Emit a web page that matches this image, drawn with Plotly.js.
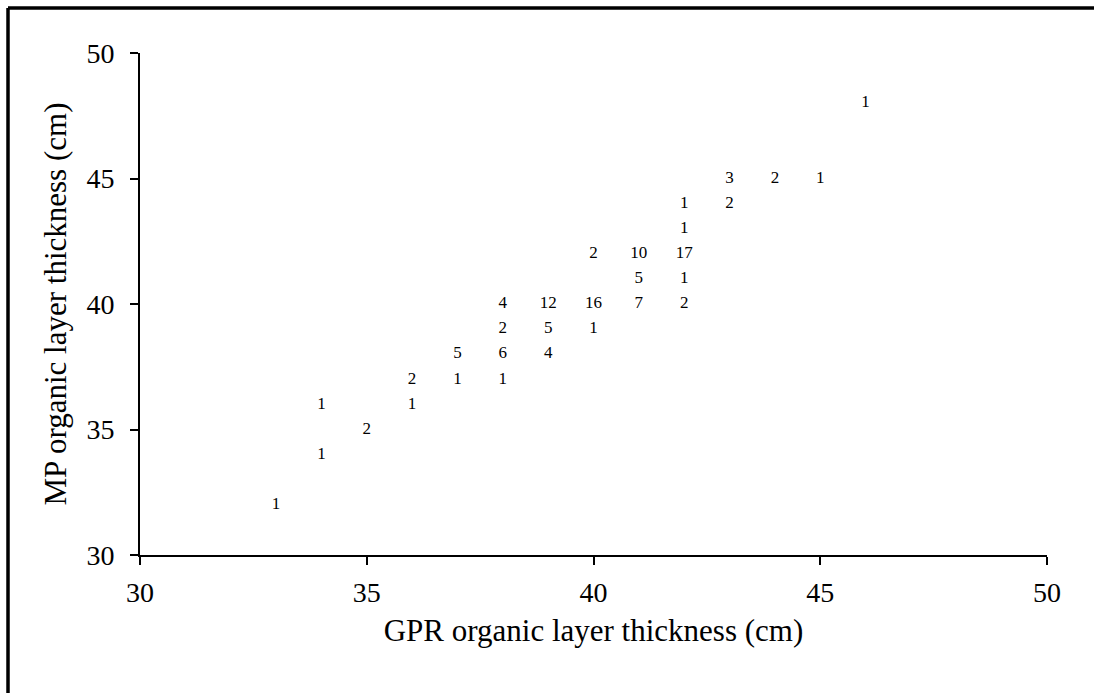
<!DOCTYPE html>
<html>
<head>
<meta charset="utf-8">
<script src="https://cdn.plot.ly/plotly-3.0.1.min.js"></script>
<style>html,body{margin:0;padding:0;background:#fff;overflow:hidden;}#chart{width:1094px;height:693px;overflow:hidden;}</style>
</head>
<body>
<div id="chart"></div>
<script>
// GPR thickness (x), MP thickness (y), number of observations (label)
const gprThickness = [33, 34, 34, 35, 36, 36, 37, 37, 38, 38, 38, 38, 39, 39, 39, 40, 40, 40, 41, 41, 41, 42, 42, 42, 42, 42, 43, 43, 44, 45, 46];
const mpThickness  = [32, 34, 36, 35, 36, 37, 37, 38, 37, 38, 39, 40, 38, 39, 40, 39, 40, 42, 40, 41, 42, 40, 41, 42, 43, 44, 44, 45, 45, 45, 48];
const counts       = [1, 1, 1, 2, 1, 2, 1, 5, 1, 6, 2, 4, 4, 5, 12, 1, 16, 2, 7, 5, 10, 2, 1, 17, 1, 1, 2, 3, 2, 1, 1];
const xTicks = [30, 35, 40, 45, 50];
const yTicks = [30, 35, 40, 45, 50];

const serif = 'Liberation Serif, Times New Roman, serif';
const L = 140, R = 47, T = 53, B = 138;
const W = 1094 - L - R, H = 693 - T - B;

const trace = {
  x: gprThickness,
  y: mpThickness,
  text: counts.map(String),
  mode: 'text',
  type: 'scatter',
  textposition: 'middle center',
  textfont: {family: serif, size: 17, color: '#000'},
  hoverinfo: 'x+y+text',
  showlegend: false
};

const axisCommon = {
  showgrid: false, zeroline: false, showline: true,
  linecolor: '#000', linewidth: 2,
  ticks: 'outside', ticklen: 8, tickwidth: 2, tickcolor: '#000',
  tickfont: {family: serif, size: 28, color: '#000'},
  automargin: false, fixedrange: true
};

const frameLeft = (8 - L) / W;
const frameTop = 1 + (T - 8) / H;
const frameRight = (1094 - L) / W;
const frameBottom = (693 - B - 693) / H;

const layout = {
  width: 1094, height: 693,
  margin: {l: L, r: R, t: T, b: B},
  paper_bgcolor: '#fff', plot_bgcolor: '#fff',
  font: {family: serif, color: '#000'},
  xaxis: Object.assign({}, axisCommon, {
    range: [30, 50], tickvals: xTicks, ticktext: xTicks.map(String),
    ticklabelstandoff: 3,
    title: {text: 'GPR organic layer thickness (cm)', font: {family: serif, size: 31, color: '#000'}, standoff: 13}
  }),
  yaxis: Object.assign({}, axisCommon, {
    range: [30, 50], tickvals: yTicks, ticktext: yTicks.map(String),
    ticklabelstandoff: 10,
    title: {text: 'MP organic layer thickness (cm)', font: {family: serif, size: 31, color: '#000'}, standoff: 11}
  }),
  shapes: [
    {type: 'line', xref: 'paper', yref: 'paper', x0: frameLeft, x1: frameLeft, y0: frameBottom, y1: frameTop,
     line: {color: '#000', width: 3.5}},
    {type: 'line', xref: 'paper', yref: 'paper', x0: frameLeft, x1: frameRight, y0: frameTop, y1: frameTop,
     line: {color: '#000', width: 3.5}}
  ]
};

Plotly.newPlot('chart', [trace], layout, {displayModeBar: false, staticPlot: true});
</script>
</body>
</html>
